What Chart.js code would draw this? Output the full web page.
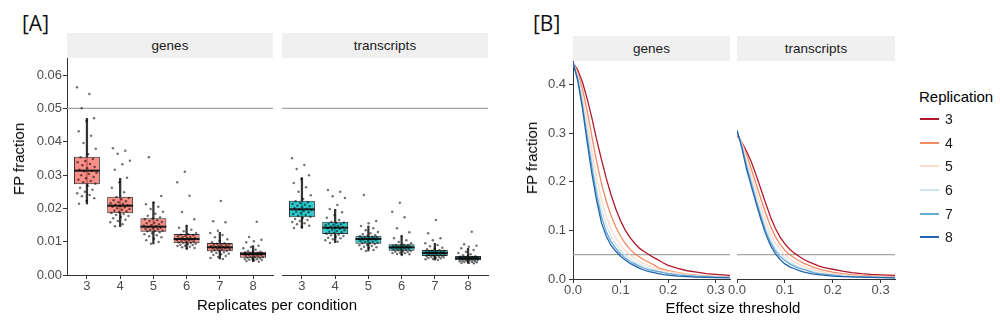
<!DOCTYPE html>
<html>
<head>
<meta charset="utf-8">
<script src="https://cdn.jsdelivr.net/npm/chart.js@4/dist/chart.umd.min.js"></script>
<style>
  html, body { margin: 0; padding: 0; background: #fff; }
  #fig { position: relative; width: 1000px; height: 327px; overflow: hidden;
         font-family: "Liberation Sans", Arial, sans-serif; color: #000; }
  .cv { position: absolute; }
  .tag { position: absolute; font-family: "Open Sans", sans-serif; font-size: 21px; line-height: 24px; color: #111; }
  .strip { position: absolute; background: #f0f0f0; color: #1a1a1a; font-size: 13.5px;
           display: flex; align-items: center; justify-content: center; }
  .xtitle { position: absolute; font-size: 15px; line-height: 18px; text-align: center; white-space: nowrap; }
  .ytitle { position: absolute; font-size: 15px; line-height: 18px; white-space: nowrap;
            transform: translate(-50%, -50%) rotate(-90deg); }
  .leg-title { position: absolute; font-size: 15px; line-height: 18px; color: #000; }
  .leg-line { position: absolute; height: 2px; }
  .leg-label { position: absolute; font-size: 14px; line-height: 18px; color: #1a1a1a; }
</style>
</head>
<body>
<div id="fig">
  <div class="tag" style="left:22px; top:11px;">[A]</div>
  <div class="tag" style="left:533px; top:11px;">[B]</div>

  <div class="strip" style="left:67px; top:33px; width:206px; height:25px;">genes</div>
  <div class="strip" style="left:282px; top:33px; width:206px; height:25px;">transcripts</div>
  <div class="strip" style="left:573px; top:36px; width:157px; height:25px;">genes</div>
  <div class="strip" style="left:737px; top:36px; width:158px; height:25px;">transcripts</div>

  <canvas id="boxGenes" class="cv" width="285" height="257" style="left:0px; top:48px;"></canvas>
  <canvas id="boxTranscripts" class="cv" width="230" height="257" style="left:270px; top:48px;"></canvas>
  <canvas id="curveGenes" class="cv" width="227" height="258" style="left:515px; top:51px;"></canvas>
  <canvas id="curveTranscripts" class="cv" width="182" height="258" style="left:725px; top:51px;"></canvas>

  <div class="ytitle" style="left:18.5px; top:159px;">FP fraction</div>
  <div class="ytitle" style="left:531.5px; top:157.5px;">FP fraction</div>
  <div class="xtitle" style="left:177px; top:296px; width:200px;">Replicates per condition</div>
  <div class="xtitle" style="left:633px; top:299px; width:200px;">Effect size threshold</div>

  <div id="legend"></div>
</div>

<script>
// ---- shared ----
const replicates = [3, 4, 5, 6, 7, 8];
const fpCutoff = 0.05;

// ---- [A] boxplot summaries of FP fraction per replicate count ----
const genesLow    = [0.0213, 0.0145, 0.0093, 0.0078, 0.0048, 0.0040];
const genesQ1     = [0.0272, 0.0185, 0.0130, 0.0095, 0.0071, 0.0052];
const genesMedian = [0.0313, 0.0208, 0.0145, 0.0108, 0.0083, 0.0063];
const genesQ3     = [0.0355, 0.0235, 0.0170, 0.0123, 0.0096, 0.0070];
const genesHigh   = [0.0470, 0.0290, 0.0218, 0.0148, 0.0128, 0.0088];

const transcriptsLow    = [0.0140, 0.0097, 0.0072, 0.0060, 0.0045, 0.0035];
const transcriptsQ1     = [0.0173, 0.0123, 0.0094, 0.0073, 0.0057, 0.0044];
const transcriptsMedian = [0.0197, 0.0142, 0.0108, 0.0083, 0.0066, 0.0050];
const transcriptsQ3     = [0.0223, 0.0160, 0.0118, 0.0092, 0.0075, 0.0057];
const transcriptsHigh   = [0.0292, 0.0197, 0.0147, 0.0117, 0.0095, 0.0080];

// individual simulation runs (jittered points)
const genesRuns = [
  [0.0563,0.0543,0.0500,0.0470,0.0462,0.0431,0.0418,0.0396,0.0379,0.0362,0.0353,0.0348,0.0342,0.0338,0.0333,0.0329,0.0324,0.0320,0.0316,0.0313,
   0.0311,0.0307,0.0303,0.0299,0.0294,0.0290,0.0286,0.0282,0.0278,0.0274,0.0268,0.0262,0.0256,0.0250,0.0245,0.0240,0.0236,0.0230,0.0222,0.0214],
  [0.0380,0.0373,0.0364,0.0343,0.0332,0.0316,0.0292,0.0278,0.0262,0.0248,0.0234,0.0231,0.0227,0.0224,0.0221,0.0218,0.0215,0.0213,0.0211,0.0209,
   0.0207,0.0205,0.0203,0.0200,0.0198,0.0196,0.0193,0.0191,0.0189,0.0186,0.0183,0.0180,0.0177,0.0174,0.0170,0.0166,0.0162,0.0158,0.0152,0.0146],
  [0.0353,0.0237,0.0218,0.0212,0.0205,0.0198,0.0190,0.0184,0.0178,0.0173,0.0169,0.0167,0.0164,0.0162,0.0159,0.0157,0.0155,0.0152,0.0150,0.0148,
   0.0146,0.0144,0.0142,0.0140,0.0138,0.0137,0.0135,0.0133,0.0132,0.0131,0.0128,0.0125,0.0122,0.0119,0.0116,0.0113,0.0109,0.0104,0.0099,0.0094],
  [0.0310,0.0278,0.0238,0.0189,0.0167,0.0148,0.0142,0.0136,0.0131,0.0126,0.0122,0.0121,0.0119,0.0117,0.0116,0.0114,0.0113,0.0111,0.0110,0.0109,
   0.0107,0.0106,0.0105,0.0104,0.0102,0.0101,0.0100,0.0098,0.0097,0.0096,0.0094,0.0093,0.0091,0.0090,0.0088,0.0087,0.0085,0.0083,0.0081,0.0079],
  [0.0222,0.0161,0.0158,0.0133,0.0126,0.0120,0.0113,0.0107,0.0102,0.0098,0.0095,0.0094,0.0092,0.0091,0.0090,0.0089,0.0088,0.0086,0.0085,0.0084,
   0.0083,0.0082,0.0081,0.0080,0.0078,0.0077,0.0076,0.0074,0.0073,0.0072,0.0070,0.0068,0.0066,0.0064,0.0062,0.0060,0.0057,0.0054,0.0051,0.0048],
  [0.0160,0.0114,0.0106,0.0101,0.0098,0.0088,0.0084,0.0080,0.0076,0.0072,0.0070,0.0069,0.0068,0.0067,0.0067,0.0066,0.0065,0.0064,0.0064,0.0063,
   0.0062,0.0061,0.0060,0.0059,0.0058,0.0057,0.0056,0.0055,0.0054,0.0053,0.0051,0.0050,0.0049,0.0048,0.0047,0.0046,0.0045,0.0044,0.0042,0.0040]
];
const transcriptsRuns = [
  [0.0350,0.0330,0.0318,0.0299,0.0288,0.0276,0.0263,0.0250,0.0239,0.0228,0.0221,0.0218,0.0216,0.0213,0.0211,0.0208,0.0206,0.0203,0.0201,0.0199,
   0.0197,0.0195,0.0192,0.0190,0.0188,0.0185,0.0183,0.0180,0.0178,0.0175,0.0171,0.0168,0.0165,0.0162,0.0159,0.0155,0.0152,0.0148,0.0145,0.0141],
  [0.0255,0.0250,0.0236,0.0231,0.0210,0.0198,0.0188,0.0180,0.0172,0.0165,0.0159,0.0157,0.0156,0.0154,0.0152,0.0151,0.0149,0.0147,0.0145,0.0143,
   0.0142,0.0140,0.0138,0.0136,0.0134,0.0132,0.0130,0.0128,0.0126,0.0124,0.0121,0.0119,0.0117,0.0115,0.0112,0.0110,0.0107,0.0104,0.0100,0.0096],
  [0.0240,0.0162,0.0155,0.0147,0.0140,0.0134,0.0129,0.0125,0.0122,0.0119,0.0117,0.0116,0.0115,0.0114,0.0113,0.0112,0.0111,0.0110,0.0109,0.0108,
   0.0107,0.0106,0.0105,0.0103,0.0102,0.0100,0.0099,0.0097,0.0096,0.0095,0.0093,0.0091,0.0089,0.0087,0.0085,0.0083,0.0081,0.0078,0.0075,0.0072],
  [0.0217,0.0190,0.0173,0.0140,0.0128,0.0117,0.0110,0.0104,0.0099,0.0095,0.0091,0.0090,0.0089,0.0088,0.0088,0.0087,0.0086,0.0085,0.0084,0.0083,
   0.0083,0.0082,0.0081,0.0080,0.0079,0.0078,0.0077,0.0076,0.0075,0.0074,0.0072,0.0071,0.0070,0.0069,0.0067,0.0066,0.0065,0.0063,0.0062,0.0060],
  [0.0165,0.0125,0.0110,0.0104,0.0095,0.0090,0.0086,0.0082,0.0079,0.0077,0.0074,0.0073,0.0072,0.0071,0.0071,0.0070,0.0069,0.0068,0.0067,0.0067,
   0.0066,0.0065,0.0064,0.0063,0.0062,0.0061,0.0060,0.0059,0.0058,0.0057,0.0056,0.0055,0.0054,0.0053,0.0052,0.0051,0.0050,0.0048,0.0047,0.0045],
  [0.0130,0.0092,0.0088,0.0085,0.0080,0.0075,0.0070,0.0066,0.0062,0.0059,0.0056,0.0056,0.0055,0.0054,0.0054,0.0053,0.0052,0.0052,0.0051,0.0051,
   0.0050,0.0049,0.0049,0.0048,0.0047,0.0047,0.0046,0.0045,0.0045,0.0044,0.0043,0.0042,0.0042,0.0041,0.0040,0.0039,0.0038,0.0037,0.0036,0.0035]
];

const yTicksA = [0, 0.01, 0.02, 0.03, 0.04, 0.05, 0.06];

// ---- [B] FP fraction against effect size threshold ----
const thresholds = [0, 0.01, 0.02, 0.03, 0.04, 0.05, 0.06, 0.07, 0.08, 0.09, 0.10, 0.11, 0.12, 0.13,
                    0.14, 0.15, 0.16, 0.17, 0.18, 0.19, 0.20, 0.22, 0.24, 0.26, 0.28, 0.30, 0.33];
const replicationColors = ['#b2182b', '#ef8a62', '#fddbc7', '#d1e5f0', '#67a9cf', '#2166ac'];

const genesCurves = [
  [0.445,0.430,0.405,0.370,0.330,0.286,0.245,0.207,0.173,0.144,0.120,0.100,0.085,0.073,0.063,0.056,0.050,0.044,0.039,0.033,0.028,0.022,0.017,0.014,0.011,0.0095,0.0075],
  [0.445,0.425,0.390,0.345,0.292,0.240,0.196,0.160,0.130,0.107,0.088,0.073,0.061,0.052,0.045,0.039,0.034,0.029,0.023,0.020,0.017,0.013,0.010,0.008,0.0065,0.0055,0.0045],
  [0.445,0.420,0.377,0.322,0.262,0.207,0.163,0.129,0.103,0.084,0.069,0.058,0.049,0.042,0.036,0.031,0.027,0.023,0.020,0.017,0.015,0.012,0.009,0.007,0.0055,0.0045,0.004],
  [0.445,0.416,0.366,0.305,0.243,0.188,0.143,0.111,0.088,0.072,0.059,0.049,0.041,0.035,0.030,0.026,0.022,0.019,0.016,0.014,0.012,0.0095,0.0075,0.006,0.005,0.0042,0.0035],
  [0.445,0.412,0.357,0.292,0.228,0.172,0.127,0.097,0.077,0.063,0.052,0.043,0.036,0.031,0.026,0.022,0.019,0.017,0.015,0.013,0.011,0.0085,0.0068,0.0055,0.0046,0.004,0.0033],
  [0.446,0.408,0.350,0.280,0.215,0.160,0.115,0.088,0.069,0.057,0.047,0.039,0.032,0.027,0.022,0.018,0.015,0.013,0.011,0.009,0.008,0.006,0.005,0.004,0.0035,0.003,0.0025]
];
const transcriptsCurves = [
  [0.295,0.280,0.262,0.240,0.213,0.184,0.155,0.127,0.104,0.086,0.072,0.061,0.053,0.046,0.040,0.035,0.031,0.027,0.024,0.022,0.020,0.016,0.013,0.011,0.0095,0.0085,0.0075],
  [0.298,0.280,0.255,0.225,0.195,0.164,0.135,0.108,0.087,0.071,0.059,0.050,0.043,0.037,0.032,0.028,0.024,0.021,0.018,0.016,0.014,0.011,0.009,0.0075,0.0065,0.0055,0.005],
  [0.300,0.278,0.248,0.214,0.180,0.148,0.118,0.093,0.074,0.060,0.049,0.041,0.035,0.030,0.026,0.022,0.019,0.016,0.014,0.012,0.011,0.009,0.007,0.006,0.005,0.0045,0.004],
  [0.302,0.275,0.240,0.204,0.168,0.136,0.106,0.082,0.064,0.051,0.042,0.035,0.029,0.025,0.021,0.018,0.015,0.013,0.011,0.010,0.009,0.007,0.0055,0.0048,0.004,0.0035,0.003],
  [0.304,0.272,0.232,0.196,0.161,0.128,0.098,0.075,0.058,0.046,0.038,0.031,0.026,0.022,0.019,0.016,0.013,0.011,0.010,0.009,0.008,0.006,0.005,0.0043,0.0038,0.0033,0.0028],
  [0.305,0.270,0.225,0.190,0.155,0.122,0.092,0.069,0.052,0.040,0.031,0.025,0.021,0.017,0.014,0.012,0.010,0.009,0.008,0.007,0.006,0.005,0.0042,0.0037,0.0033,0.003,0.0025]
];

const yTicksB = [0, 0.1, 0.2, 0.3, 0.4];
const xTicksB = [0, 0.1, 0.2, 0.3];

// ---- styling helpers ----
Chart.defaults.font.family = '"Liberation Sans", Arial, sans-serif';
const tickFont = { family: '"Liberation Sans", Arial, sans-serif', size: 13 };
const axisGrid = { display: true, drawOnChartArea: false, drawTicks: true, tickLength: 4, color: '#333333', lineWidth: 1, offset: false };
const axisBorder = { display: true, color: '#333333', width: 1 };
const jitterHalfWidth = 0.3;

// spread points horizontally around their replicate position
function jitter(k, g) {
  const f = (k * 0.6180339887 + g * 0.137) % 1;
  return (f - 0.5) * 2 * jitterHalfWidth;
}

const cutoffLine = {
  id: 'cutoffLine',
  beforeDatasetsDraw(chart) {
    const { ctx, chartArea } = chart;
    const py = chart.scales.y.getPixelForValue(fpCutoff);
    ctx.save();
    ctx.strokeStyle = '#a3a3a3';
    ctx.lineWidth = 1.2;
    ctx.beginPath();
    ctx.moveTo(chartArea.left, py);
    ctx.lineTo(chartArea.right, py);
    ctx.stroke();
    ctx.restore();
  }
};

function medianLines(med) {
  return {
    id: 'medianLines',
    afterDatasetDraw(chart, args) {
      if (args.index !== 1) return;
      const { ctx } = chart;
      const yScale = chart.scales.y;
      ctx.save();
      ctx.strokeStyle = '#1a1a1a';
      ctx.lineWidth = 2;
      args.meta.data.forEach((bar, i) => {
        const { x, width } = bar.getProps(['x', 'width'], true);
        const py = yScale.getPixelForValue(med[i]);
        ctx.beginPath();
        ctx.moveTo(x - width / 2, py);
        ctx.lineTo(x + width / 2, py);
        ctx.stroke();
      });
      ctx.restore();
    }
  };
}

function boxChart(id, runs, low, q1, med, q3, high, fill, showY) {
  return new Chart(document.getElementById(id), {
    type: 'bar',
    data: {
      datasets: [
        {
          type: 'scatter',
          data: runs.flatMap((vals, g) => vals.map((v, k) => ({ x: replicates[g] + jitter(k, g), y: v }))),
          pointRadius: 1.25,
          pointBackgroundColor: 'rgba(0,0,0,0.55)',
          pointBorderWidth: 0,
          order: 0
        },
        {
          type: 'bar',
          data: replicates.map((r, i) => ({ x: r, y: [q1[i], q3[i]] })),
          backgroundColor: fill,
          borderColor: '#333333',
          borderWidth: 1,
          borderSkipped: false,
          grouped: false,
          categoryPercentage: 1,
          barPercentage: 0.78,
          order: 1
        },
        {
          type: 'bar',
          data: replicates.map((r, i) => ({ x: r, y: [low[i], high[i]] })),
          backgroundColor: '#333333',
          borderWidth: 0,
          borderSkipped: false,
          grouped: false,
          barThickness: 1.6,
          order: 2
        }
      ]
    },
    options: {
      responsive: false,
      animation: false,
      events: [],
      layout: { padding: { top: 10, right: 12, bottom: 0, left: showY ? 0 : 12 } },
      plugins: { legend: { display: false }, tooltip: { enabled: false } },
      scales: {
        x: {
          type: 'linear', min: 2.4, max: 8.6, offset: false,
          afterFit: s => { s.height = 30; },
          afterBuildTicks: s => { s.ticks = replicates.map(v => ({ value: v })); },
          ticks: { color: '#4d4d4d', font: tickFont, padding: 0, maxRotation: 0, callback: v => String(v) },
          grid: axisGrid, border: axisBorder
        },
        y: {
          type: 'linear', min: 0, max: 0.0651, display: showY,
          afterFit: s => { if (showY) s.width = 67; },
          afterBuildTicks: s => { s.ticks = yTicksA.map(v => ({ value: v })); },
          ticks: { color: '#4d4d4d', font: tickFont, padding: 1, callback: v => v.toFixed(2) },
          grid: axisGrid, border: axisBorder
        }
      }
    },
    plugins: [cutoffLine, medianLines(med)]
  });
}

function curveChart(id, curves, showY) {
  return new Chart(document.getElementById(id), {
    type: 'line',
    data: {
      datasets: replicates.map((r, i) => ({
        label: String(r),
        data: thresholds.map((t, j) => ({ x: t, y: curves[i][j] })),
        borderColor: replicationColors[i],
        borderWidth: 1.3,
        pointRadius: 0,
        tension: 0,
        fill: false,
        order: replicates.length - 1 - i
      }))
    },
    options: {
      responsive: false,
      animation: false,
      events: [],
      layout: { padding: { top: 10, right: 12, bottom: 0, left: showY ? 0 : 12 } },
      plugins: { legend: { display: false }, tooltip: { enabled: false } },
      scales: {
        x: {
          type: 'linear', min: 0, max: 0.33,
          afterFit: s => { s.height = 30; },
          afterBuildTicks: s => { s.ticks = xTicksB.map(v => ({ value: v })); },
          ticks: { color: '#4d4d4d', font: tickFont, padding: 0, maxRotation: 0, callback: v => v.toFixed(1) },
          grid: axisGrid, border: axisBorder
        },
        y: {
          type: 'linear', min: 0, max: 0.447, display: showY,
          afterFit: s => { if (showY) s.width = 58; },
          afterBuildTicks: s => { s.ticks = yTicksB.map(v => ({ value: v })); },
          ticks: { color: '#4d4d4d', font: tickFont, padding: 3, callback: v => v.toFixed(1) },
          grid: axisGrid, border: axisBorder
        }
      }
    },
    plugins: [cutoffLine]
  });
}

boxChart('boxGenes', genesRuns, genesLow, genesQ1, genesMedian, genesQ3, genesHigh, 'rgba(248,118,109,0.82)', true);
boxChart('boxTranscripts', transcriptsRuns, transcriptsLow, transcriptsQ1, transcriptsMedian, transcriptsQ3, transcriptsHigh, 'rgba(0,191,196,0.82)', false);
curveChart('curveGenes', genesCurves, true);
curveChart('curveTranscripts', transcriptsCurves, false);

// legend for the replication colours
(function buildLegend() {
  const host = document.getElementById('legend');
  const title = document.createElement('div');
  title.className = 'leg-title';
  title.style.left = '919px';
  title.style.top = '88px';
  title.textContent = 'Replication';
  host.appendChild(title);
  replicates.forEach((r, i) => {
    const cy = Math.round(119 + i * 23.67);
    const line = document.createElement('div');
    line.className = 'leg-line';
    line.style.left = '920px';
    line.style.width = '19px';
    line.style.top = (cy - 1) + 'px';
    line.style.backgroundColor = replicationColors[i];
    host.appendChild(line);
    const lab = document.createElement('div');
    lab.className = 'leg-label';
    lab.style.left = '945px';
    lab.style.top = (cy - 9) + 'px';
    lab.textContent = String(r);
    host.appendChild(lab);
  });
})();
</script>
</body>
</html>
